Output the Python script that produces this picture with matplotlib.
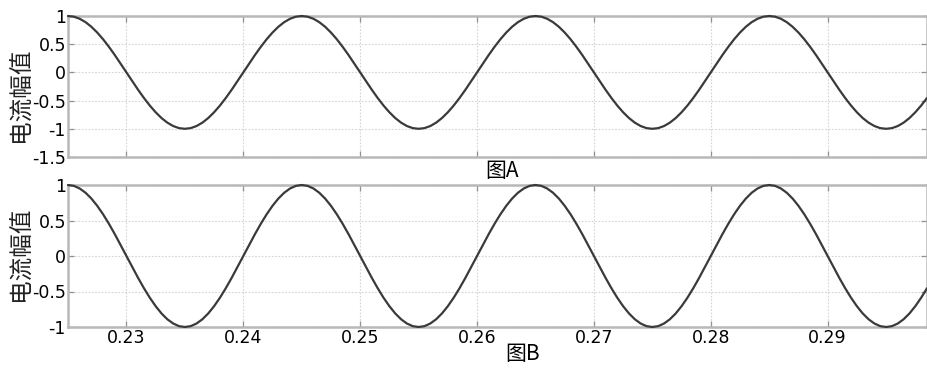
import numpy as np
import matplotlib
matplotlib.use("Agg")
import matplotlib.pyplot as plt

plt.rcParams['font.family'] = ['DejaVu Sans', 'Noto Sans CJK SC']
plt.rcParams['axes.unicode_minus'] = False

# ---- data ----
t_start = 0.225
t_step = 0.0005
current_a = [
    1, 0.988, 0.951, 0.891, 0.809, 0.707, 0.588, 0.454, 0.309, 0.156, 0, -0.156, -0.309, -0.454, -0.588, -0.707, -0.809, -0.891, -0.951, -0.988,
    -1, -0.988, -0.951, -0.891, -0.809, -0.707, -0.588, -0.454, -0.309, -0.156, 0, 0.156, 0.309, 0.454, 0.588, 0.707, 0.809, 0.891, 0.951, 0.988,
    1, 0.988, 0.951, 0.891, 0.809, 0.707, 0.588, 0.454, 0.309, 0.156, 0, -0.156, -0.309, -0.454, -0.588, -0.707, -0.809, -0.891, -0.951, -0.988,
    -1, -0.988, -0.951, -0.891, -0.809, -0.707, -0.588, -0.454, -0.309, -0.156, 0, 0.156, 0.309, 0.454, 0.588, 0.707, 0.809, 0.891, 0.951, 0.988,
    1, 0.988, 0.951, 0.891, 0.809, 0.707, 0.588, 0.454, 0.309, 0.156, 0, -0.156, -0.309, -0.454, -0.588, -0.707, -0.809, -0.891, -0.951, -0.988,
    -1, -0.988, -0.951, -0.891, -0.809, -0.707, -0.588, -0.454, -0.309, -0.156, 0, 0.156, 0.309, 0.454, 0.588, 0.707, 0.809, 0.891, 0.951, 0.988,
    1, 0.988, 0.951, 0.891, 0.809, 0.707, 0.588, 0.454, 0.309, 0.156, 0, -0.156, -0.309, -0.454, -0.588, -0.707, -0.809, -0.891, -0.951, -0.988,
    -1, -0.988, -0.951, -0.891, -0.809, -0.707, -0.588, -0.454,
]
current_b = list(current_a)
time = t_start + t_step * np.arange(len(current_a))

x_ticks = [0.23, 0.24, 0.25, 0.26, 0.27, 0.28, 0.29]
x_tick_labels = ['0.23', '0.24', '0.25', '0.26', '0.27', '0.28', '0.29']
y_ticks_a = [1, 0.5, 0, -0.5, -1, -1.5]
y_tick_labels_a = ['1', '0.5', '0', '-0.5', '-1', '-1.5']
y_ticks_b = [1, 0.5, 0, -0.5, -1]
y_tick_labels_b = ['1', '0.5', '0', '-0.5', '-1']
y_label = '电流幅值'
captions = ['图A', '图B']

# ---- figure ----
W, H = 928, 368
fig = plt.figure(figsize=(W / 100, H / 100), dpi=100)

def px_axes(left, top, right, bottom):
    return fig.add_axes([left / W, 1 - bottom / H, (right - left) / W, (bottom - top) / H])

ax_a = px_axes(68, 16, 927, 157)
ax_b = px_axes(68, 185, 927, 327)

line_color = '#3a3a3a'
spine_color = '#b8b8b8'
grid_color = '#d4d4d4'

for ax, y, yt, ytl, ylim in [
    (ax_a, current_a, y_ticks_a, y_tick_labels_a, (-1.5, 1)),
    (ax_b, current_b, y_ticks_b, y_tick_labels_b, (-1, 1)),
]:
    ax.plot(time, y, color=line_color, lw=1.6, solid_capstyle='round', clip_on=False, zorder=3)
    ax.set_xlim(t_start, time[-1])
    ax.set_ylim(*ylim)
    ax.set_xticks(x_ticks)
    ax.set_yticks(yt)
    ax.set_yticklabels(ytl, fontsize=12.5)
    ax.grid(True, color=grid_color, linestyle=(0, (1.5, 1.5)), lw=0.8)
    ax.set_axisbelow(True)
    for s in ax.spines.values():
        s.set_color(spine_color)
        s.set_linewidth(1.8)
    ax.tick_params(direction='in', top=True, right=True, length=4, width=0.9,
                   color='#909090', pad=1.5)

ax_a.set_xticklabels([])
ax_b.set_xticklabels(x_tick_labels, fontsize=12.5)

cjk = ['Noto Sans CJK SC', 'DejaVu Sans']
fig.text(21 / W, 1 - 95 / H, y_label, rotation=90, ha='center', va='center',
         fontsize=17, family=cjk, fontweight='light', color='#222222')
fig.text(21 / W, 1 - 254 / H, y_label, rotation=90, ha='center', va='center',
         fontsize=17, family=cjk, fontweight='light', color='#222222')
fig.text(502 / W, 1 - 171 / H, captions[0], ha='center', va='center', fontsize=15,
         family=cjk, fontweight='light')
fig.text(523 / W, 1 - 354 / H, captions[1], ha='center', va='center', fontsize=15,
         family=cjk, fontweight='light')

fig.savefig('out.png', dpi=100)
